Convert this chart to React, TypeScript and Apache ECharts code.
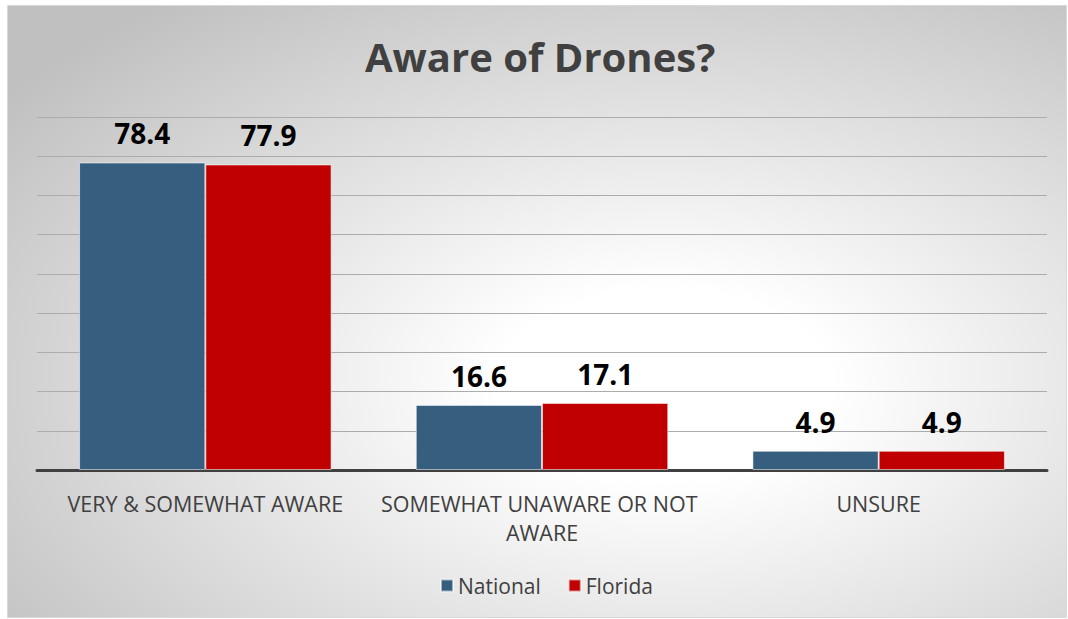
import React, { useEffect, useRef } from "react";
import * as echarts from "echarts";

const titleText = "Aware of Drones?";
const categories = ["VERY & SOMEWHAT AWARE", "SOMEWHAT UNAWARE OR NOT AWARE", "UNSURE"];
const seriesNames = ["National", "Florida"];
const nationalValues = [78.4, 16.6, 4.9];
const floridaValues = [77.9, 17.1, 4.9];
const yMin = 0;
const yMax = 90;
const yInterval = 10;

const FONT = "'Open Sans', sans-serif";

export default function App() {
  const ref = useRef<HTMLDivElement>(null);

  useEffect(() => {
    if (!ref.current) return;
    const chart = echarts.init(ref.current, undefined, { renderer: "svg" });
    const labelCfg = {
      show: true,
      position: "top",
      distance: 15,
      fontFamily: FONT,
      fontWeight: "bold",
      fontSize: 28,
      color: "#000000",
      formatter: (p: any) => Number(p.value).toFixed(1),
    };
    chart.setOption({
      animation: false,
      backgroundColor: "#ffffff",
      graphic: [
        {
          type: "rect",
          z: -100,
          silent: true,
          shape: { x: 7.5, y: 5.5, width: 1059, height: 612 },
          style: {
            fill: {
              type: "radial",
              x: 0.62,
              y: 0.62,
              r: 0.78,
              colorStops: [
                { offset: 0, color: "#ffffff" },
                { offset: 0.2, color: "#ffffff" },
                { offset: 1, color: "#c0c0c0" },
              ],
            },
            stroke: "#d9d9d9",
            lineWidth: 1,
          },
        },
      ],
      title: {
        text: titleText,
        left: 360,
        top: 31,
        textStyle: {
          fontFamily: FONT,
          fontWeight: "bold",
          fontSize: 40,
          color: "#404040",
        },
      },
      legend: {
        data: seriesNames,
        left: 435,
        top: 570,
        icon: "rect",
        itemWidth: 12,
        itemHeight: 12,
        itemGap: 27,
        textStyle: { fontFamily: FONT, fontSize: 21, color: "#404040" },
      },
      grid: { left: 37, right: 21, top: 117, bottom: 149, containLabel: false },
      xAxis: {
        type: "category",
        data: categories,
        axisLine: { show: true, lineStyle: { color: "#404040", width: 3 } },
        axisTick: { show: false },
        axisLabel: {
          margin: 19,
          fontFamily: FONT,
          fontSize: 21.5,
          color: "#404040",
          lineHeight: 29,
          width: 330,
          overflow: "break",
          interval: 0,
        },
      },
      yAxis: {
        type: "value",
        min: yMin,
        max: yMax,
        interval: yInterval,
        axisLine: { show: false },
        axisTick: { show: false },
        axisLabel: { show: false },
        splitLine: { show: true, lineStyle: { color: "#acacac", width: 1.2 } },
      },
      series: [
        {
          name: seriesNames[0],
          type: "bar",
          data: nationalValues,
          barGap: "0%",
          barCategoryGap: "25%",
          itemStyle: { color: "#365E7E", borderColor: "rgba(255,255,255,0.55)", borderWidth: 1 },
          label: labelCfg,
        },
        {
          name: seriesNames[1],
          type: "bar",
          data: floridaValues,
          barGap: "0%",
          barCategoryGap: "25%",
          itemStyle: { color: "#C00000", borderColor: "rgba(255,255,255,0.55)", borderWidth: 1 },
          label: labelCfg,
        },
      ],
    });
    return () => chart.dispose();
  }, []);

  return (
    <div
      ref={ref}
      style={{ position: "absolute", left: 0, top: 0, width: 1068, height: 619 }}
    />
  );
}
